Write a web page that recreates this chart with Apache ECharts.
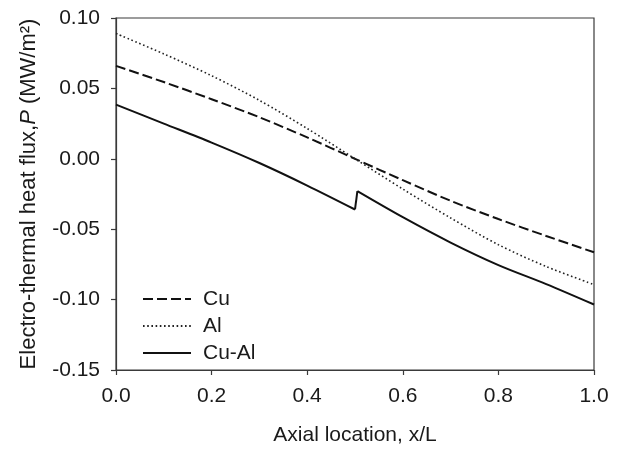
<!DOCTYPE html>
<html>
<head>
<meta charset="utf-8">
<script src="https://cdn.jsdelivr.net/npm/echarts@6/dist/echarts.min.js"></script>
<style>
html,body{margin:0;padding:0;background:#fff;}
#chart{width:623px;height:451px;}
</style>
</head>
<body>
<div id="chart"></div>
<script>
// Data
const xCu = [0, 0.1, 0.2, 0.3, 0.4, 0.5, 0.6, 0.7, 0.8, 0.9, 1.0];
const cuValues = [0.066, 0.0545, 0.0423, 0.0295, 0.0152, 0, -0.0152, -0.0298, -0.0428, -0.0548, -0.0664];
const xAl = [0, 0.1, 0.2, 0.3, 0.4, 0.5, 0.6, 0.7, 0.8, 0.9, 1.0];
const alValues = [0.089, 0.0745, 0.059, 0.0415, 0.0215, 0, -0.0215, -0.042, -0.061, -0.0765, -0.0893];
// Cu-Al: two branches, either side of the jump at the interface
const xCuAlLeft = [0, 0.1, 0.2, 0.3, 0.4, 0.5];
const cuAlLeft = [0.0385, 0.025, 0.0115, -0.003, -0.019, -0.036];
const xCuAlRight = [0.5, 0.505, 0.6, 0.7, 0.8, 0.9, 1.0];
const cuAlRight = [-0.036, -0.023, -0.0415, -0.0595, -0.0755, -0.089, -0.1035];
const seriesNames = ['Cu', 'Al', 'Cu-Al'];
const xTicks = [0, 0.2, 0.4, 0.6, 0.8, 1.0];
const yTicks = [-0.15, -0.10, -0.05, 0.00, 0.05, 0.10];

const pairs = (xs, ys) => xs.map((x, i) => [x, ys[i]]);
const FONT = '"Liberation Sans", Arial, sans-serif';
const axisColor = '#3a3a3a';

const chart = echarts.init(document.getElementById('chart'), null, {renderer: 'canvas'});
chart.setOption({
  animation: false,
  backgroundColor: '#fff',
  grid: {
    left: 116, right: 29, top: 18, bottom: 78.5,
    show: true, borderColor: axisColor, borderWidth: 1.2, backgroundColor: 'transparent'
  },
  legend: {
    left: 137, top: 283.5, orient: 'vertical',
    itemWidth: 48, itemHeight: 21, itemGap: 6,
    data: seriesNames,
    itemStyle: {color: 'rgba(0,0,0,0)', borderWidth: 0, opacity: 0},
    textStyle: {fontFamily: FONT, fontSize: 21, color: '#1a1a1a', padding: [0, 0, 0, 7]}
  },
  xAxis: {
    type: 'value', min: xTicks[0], max: xTicks[xTicks.length - 1], interval: 0.2,
    name: 'Axial location, x/L', nameLocation: 'middle', nameGap: 55,
    nameTextStyle: {fontFamily: FONT, fontSize: 21, color: '#1a1a1a'},
    axisLine: {show: true, onZero: false, lineStyle: {color: axisColor, width: 1.2}},
    axisTick: {show: true, inside: false, length: 5, lineStyle: {color: axisColor, width: 1.2}},
    axisLabel: {fontFamily: FONT, fontSize: 21, color: '#1a1a1a', margin: 16,
      formatter: v => v.toFixed(1)},
    splitLine: {show: false}
  },
  yAxis: {
    type: 'value', min: yTicks[0], max: yTicks[yTicks.length - 1], interval: 0.05,
    name: '{n|Electro-thermal heat flux,}{i|P}{n| (MW/m²)}', nameLocation: 'middle', nameGap: 76,
    nameRotate: 90,
    nameTextStyle: {
      fontFamily: FONT, fontSize: 22, color: '#1a1a1a',
      rich: {
        n: {fontFamily: FONT, fontSize: 22, color: '#1a1a1a'},
        i: {fontFamily: FONT, fontSize: 22, color: '#1a1a1a', fontStyle: 'italic'}
      }
    },
    axisLine: {show: true, onZero: false, lineStyle: {color: axisColor, width: 1.2}},
    axisTick: {show: true, inside: false, length: 5, lineStyle: {color: axisColor, width: 1.2}},
    axisLabel: {fontFamily: FONT, fontSize: 21, color: '#1a1a1a', margin: 16,
      formatter: v => v.toFixed(2)},
    splitLine: {show: false}
  },
  series: [
    {
      name: seriesNames[0], type: 'line', data: pairs(xCu, cuValues),
      showSymbol: false, symbol: 'none', smooth: 0.3,
      lineStyle: {color: '#111', width: 2, type: [10, 4]},
      itemStyle: {color: '#111'}
    },
    {
      name: seriesNames[1], type: 'line', data: pairs(xAl, alValues),
      showSymbol: false, symbol: 'none', smooth: 0.3,
      lineStyle: {color: '#222', width: 1.6, type: [1.6, 2.6]},
      itemStyle: {color: '#222'}
    },
    {
      name: seriesNames[2], type: 'line', data: pairs(xCuAlLeft, cuAlLeft),
      showSymbol: false, symbol: 'none', smooth: 0.3,
      lineStyle: {color: '#111', width: 2, type: 'solid'},
      itemStyle: {color: '#111'}
    },
    {
      name: seriesNames[2], type: 'line', data: pairs(xCuAlRight.slice(1), cuAlRight.slice(1)),
      showSymbol: false, symbol: 'none', smooth: 0.3,
      lineStyle: {color: '#111', width: 2, type: 'solid'},
      itemStyle: {color: '#111'}
    },
    {
      name: seriesNames[2], type: 'line', data: pairs(xCuAlRight.slice(0, 2), cuAlRight.slice(0, 2)),
      showSymbol: false, symbol: 'none',
      lineStyle: {color: '#111', width: 2, type: 'solid'},
      itemStyle: {color: '#111'}
    }
  ]
});
</script>
</body>
</html>
